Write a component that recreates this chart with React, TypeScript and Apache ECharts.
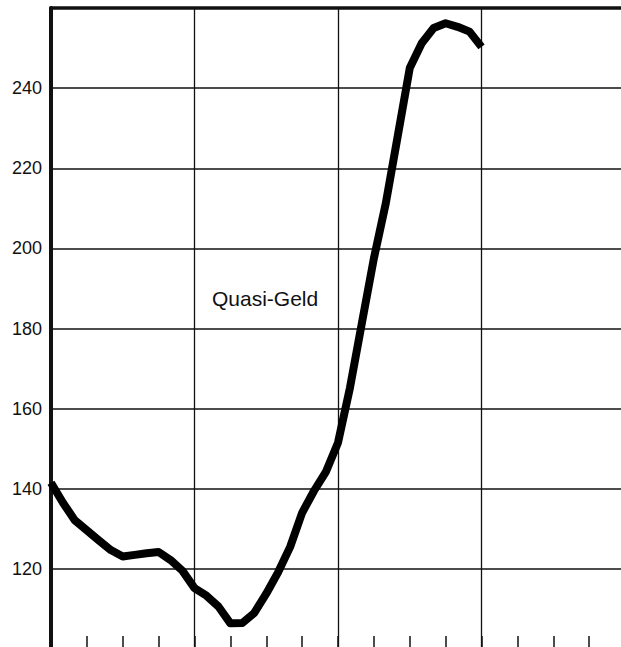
import React, { useEffect, useRef } from "react";
import * as echarts from "echarts";

// months since start of the chart (quarters are every 3 months, years every 12)
const months: number[] = [
  0, 1, 2, 3, 4, 5, 6, 7, 8, 9, 10, 11, 12, 13, 14, 15, 16, 17, 18, 19, 20, 21, 22, 23, 24, 25, 26, 27, 28,
  29, 30, 31, 32, 33, 34, 35, 36,
];
const quasiGeld: number[] = [
  141.5, 136.5, 132.1, 129.6, 127.1, 124.7, 123.1, 123.5, 123.9, 124.2, 122.2, 119.5, 115.2, 113.3, 110.6,
  106.4, 106.5, 109.0, 113.8, 119.2, 125.5, 134.0, 139.5, 144.3, 151.5, 165.2, 181.4, 197.5, 211.3, 228.1,
  245.0, 251.2, 255.0, 256.2, 255.3, 254.1, 250.3,
];
const yMin = 100;
const yMax = 260;
const yStep = 20;
const xMax = 48;
const seriesLabel = "Quasi-Geld";

export default function App() {
  const ref = useRef<HTMLDivElement>(null);
  useEffect(() => {
    if (!ref.current) return;
    const chart = echarts.init(ref.current, null, { renderer: "svg" });
    const ink = "#111";
    chart.setOption({
      animation: false,
      backgroundColor: "#fff",
      grid: { left: 51, top: 8, width: 574, height: 641, containLabel: false },
      xAxis: [
        {
          type: "value",
          min: 0,
          max: xMax,
          interval: 3,
          position: "bottom",
          axisLine: { show: true, lineStyle: { color: ink, width: 2 } },
          axisTick: { show: true, inside: true, length: 13, lineStyle: { color: ink, width: 1.5 } },
          axisLabel: { show: false },
          splitLine: { show: false },
        },
        {
          type: "value",
          min: 0,
          max: xMax,
          interval: 12,
          position: "top",
          axisLine: { show: true, lineStyle: { color: ink, width: 3.5 } },
          axisTick: { show: false },
          axisLabel: { show: false },
          splitLine: { show: true, lineStyle: { color: ink, width: 1.3 } },
        },
      ],
      yAxis: {
        type: "value",
        min: yMin,
        max: yMax,
        interval: yStep,
        axisLine: { show: true, lineStyle: { color: ink, width: 4 } },
        axisTick: { show: false },
        axisLabel: {
          show: true,
          showMinLabel: false,
          showMaxLabel: false,
          color: ink,
          fontFamily: "Liberation Sans",
          fontSize: 18,
          margin: 9,
        },
        splitLine: { show: true, lineStyle: { color: ink, width: 1.5 } },
      },
      series: [
        {
          type: "line",
          name: seriesLabel,
          xAxisIndex: 0,
          data: months.map((m, i) => [m, quasiGeld[i]]),
          showSymbol: false,
          lineStyle: { color: "#000", width: 8, join: "round", cap: "butt" },
          z: 5,
        },
      ],
      graphic: [
        {
          type: "text",
          x: 212,
          y: 298,
          style: {
            text: seriesLabel,
            fill: ink,
            fontFamily: "Liberation Sans",
            fontSize: 21,
            verticalAlign: "middle",
          },
        },
      ],
    });
    return () => chart.dispose();
  }, []);
  return (
    <div
      ref={ref}
      style={{ position: "absolute", left: 0, top: 0, width: 640, height: 680, background: "#fff" }}
    />
  );
}
